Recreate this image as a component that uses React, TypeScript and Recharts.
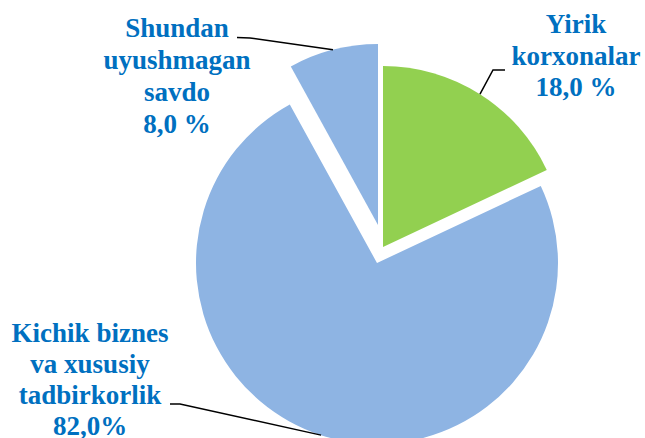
import React from "react";
import { PieChart, Pie, Cell } from "recharts";

const sliceNames = [
  "Yirik korxonalar",
  "Kichik biznes va xususiy tadbirkorlik",
  "Shundan uyushmagan savdo",
];
const sliceValues = [18, 74, 8];
const sliceLabels = [
  ["Yirik", "korxonalar", "18,0 %"],
  ["Kichik biznes", "va xususiy", "tadbirkorlik", "82,0%"],
  ["Shundan", "uyushmagan", "savdo", "8,0 %"],
];

const COLORS = ["#92D050", "#8EB4E3", "#8EB4E3"];
const TEXT_COLOR = "#0070C0";
const RADIUS = 181;
const RAD = Math.PI / 180;
const FONT = "'Liberation Serif', 'Times New Roman', serif";

// each slice is drawn by its own pie so it can be pulled out a little
const layout = [
  { cx: 378, cy: 242, elbow: [493, 70], end: [505, 70], textX: 576, textY: 33, lh: 31.5 },
  { cx: 372, cy: 258, elbow: [180, 404], end: [170, 404], textX: 90, textY: 341.5, lh: 31.3 },
  { cx: 373, cy: 220, elbow: [250, 38], end: [237, 37.5], textX: 177, textY: 36.5, lh: 32 },
];

const data = sliceNames.map((name, i) => ({ name, value: sliceValues[i] }));

function makeLabel(slice: number) {
  return (props: any) => {
    if (props.index !== slice) return null;
    const { cx, cy, midAngle, outerRadius } = props;
    const ax = cx + outerRadius * Math.cos(-midAngle * RAD);
    const ay = cy + outerRadius * Math.sin(-midAngle * RAD);
    const l = layout[slice];
    return (
      <g>
        <polyline
          points={`${ax},${ay} ${l.elbow[0]},${l.elbow[1]} ${l.end[0]},${l.end[1]}`}
          fill="none"
          stroke="#000"
          strokeWidth={1.5}
        />
        {sliceLabels[slice].map((line, k) => (
          <text
            key={k}
            x={l.textX}
            y={l.textY + k * l.lh}
            textAnchor="middle"
            fill={TEXT_COLOR}
            fontFamily={FONT}
            fontWeight="bold"
            fontSize={27}
          >
            {line}
          </text>
        ))}
      </g>
    );
  };
}

export default function App() {
  return (
    <div style={{ position: "absolute", left: 0, top: 0, width: 645, height: 438, background: "#fff" }}>
      <PieChart width={645} height={438}>
        {layout.map((l, s) => (
          <Pie
            key={`pie-${s}`}
            data={data}
            dataKey="value"
            cx={l.cx}
            cy={l.cy}
            innerRadius={0}
            outerRadius={RADIUS}
            startAngle={90}
            endAngle={-270}
            stroke="none"
            label={makeLabel(s)}
            labelLine={false}
            isAnimationActive={false}
          >
            {data.map((entry, i) => (
              <Cell key={`cell-${s}-${i}`} fill={i === s ? COLORS[i] : "none"} />
            ))}
          </Pie>
        ))}
      </PieChart>
    </div>
  );
}
